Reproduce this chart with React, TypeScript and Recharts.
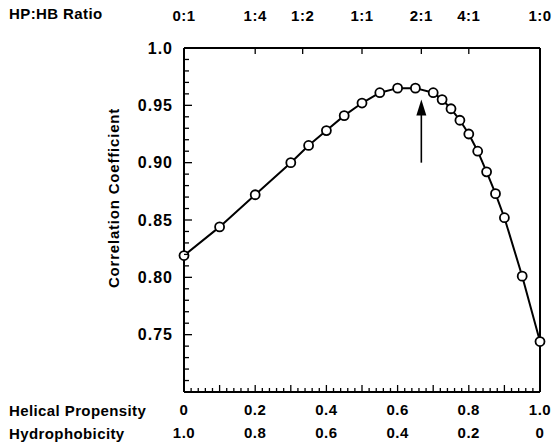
import React from 'react';
import { LineChart, Line, XAxis, YAxis, ReferenceLine } from 'recharts';

const hpFraction = [0, 0.1, 0.2, 0.3, 0.35, 0.4, 0.45, 0.5, 0.55, 0.6, 0.65, 0.7, 0.725, 0.75, 0.775, 0.8, 0.825, 0.85, 0.875, 0.9, 0.95, 1.0];
const correlation = [0.819, 0.844, 0.872, 0.9, 0.915, 0.928, 0.941, 0.952, 0.961, 0.965, 0.965, 0.961, 0.955, 0.947, 0.937, 0.925, 0.91, 0.892, 0.873, 0.852, 0.801, 0.744];

const ratioTicks = [0, 0.2, 1 / 3, 0.5, 2 / 3, 0.8, 1];
const ratioLabels = ['0:1', '1:4', '1:2', '1:1', '2:1', '4:1', '1:0'];

const bottomTicks = Array.from({ length: 51 }, (_, i) => Math.round(i * 2) / 100);
const leftTicks = Array.from({ length: 31 }, (_, i) => Math.round(70 + i) / 100);

const arrowX = 2 / 3;
const arrowFrom = 0.9;
const arrowTo = 0.955;

const data = hpFraction.map((hp, i) => ({ hp, r: correlation[i] }));

const FONT = '"Liberation Sans", Arial, Helvetica, sans-serif';
const textStyle = { fontFamily: FONT, fontWeight: 700, fontSize: 15, fill: '#000' } as const;
const yTextStyle = { fontFamily: FONT, fontWeight: 700, fontSize: 16, fill: '#000' } as const;

const fmtBottom = (v: number) => (v === 0 ? '0' : v.toFixed(1));

const BottomTick = (props: any) => {
  const { x, y, payload } = props;
  const v = Math.round(payload.value * 100);
  const major = v % 10 === 0;
  const labeled = v % 20 === 0;
  return (
    <g>
      <line x1={x} x2={x} y1={y} y2={y - (major ? 7 : 4)} stroke="#000" strokeWidth={1.3} />
      {labeled && (
        <>
          <text x={x} y={y + 23} textAnchor="middle" style={textStyle} letterSpacing={0.5}>
            {fmtBottom(v / 100)}
          </text>
          <text x={x} y={y + 46} textAnchor="middle" style={textStyle} letterSpacing={0.5}>
            {fmtBottom(1 - v / 100)}
          </text>
        </>
      )}
    </g>
  );
};

const TopTick = (props: any) => {
  const { x, y, index } = props;
  return (
    <g>
      <line x1={x} x2={x} y1={y} y2={y + 6} stroke="#000" strokeWidth={1.3} />
      <text x={x} y={y - 27} textAnchor="middle" style={textStyle} letterSpacing={0.5}>
        {ratioLabels[index] ?? ''}
      </text>
    </g>
  );
};

const LeftTick = (props: any) => {
  const { x, y, payload } = props;
  const v = Math.round(payload.value * 100);
  const major = v % 5 === 0;
  const labeled = major && v >= 75;
  const label = v === 100 ? '1.0' : (v / 100).toFixed(2);
  return (
    <g>
      <line x1={x} x2={x + (major ? 8 : 5)} y1={y} y2={y} stroke="#000" strokeWidth={1.3} />
      {labeled && (
        <text x={x - 11} y={y} dy="0.36em" textAnchor="end" style={yTextStyle} letterSpacing={1}>
          {label}
        </text>
      )}
    </g>
  );
};

const ArrowShape = (p: any) => {
  const { x1, y1, x2, y2 } = p;
  return (
    <g>
      <line x1={x1} y1={y1} x2={x2} y2={y2 + 12} stroke="#000" strokeWidth={1.6} />
      <polygon points={`${x2},${y2} ${x2 - 5},${y2 + 16} ${x2 + 5},${y2 + 16}`} fill="#000" />
    </g>
  );
};

const labelStyle: React.CSSProperties = {
  position: 'absolute',
  fontFamily: FONT,
  fontWeight: 700,
  fontSize: 15,
  color: '#000',
  whiteSpace: 'nowrap',
  lineHeight: 1,
  letterSpacing: 0.4,
};

export default function App() {
  return (
    <div style={{ position: 'absolute', left: 0, top: 0, width: 556, height: 442, background: '#fff' }}>
      <LineChart width={556} height={442} data={data} margin={{ top: 0, right: 16, bottom: 0, left: 0 }}>
        <XAxis
          xAxisId="bottom"
          dataKey="hp"
          type="number"
          domain={[0, 1]}
          ticks={bottomTicks}
          interval={0}
          height={50}
          tickSize={0}
          tickMargin={0}
          tickLine={false}
          axisLine={{ stroke: '#000', strokeWidth: 2 }}
          tick={<BottomTick />}
        />
        <XAxis
          xAxisId="top"
          orientation="top"
          dataKey="hp"
          type="number"
          domain={[0, 1]}
          ticks={ratioTicks}
          interval={0}
          height={48}
          tickSize={0}
          tickMargin={0}
          tickLine={false}
          axisLine={{ stroke: '#000', strokeWidth: 2 }}
          tick={<TopTick />}
        />
        <YAxis
          yAxisId="left"
          type="number"
          domain={[0.7, 1.0]}
          ticks={leftTicks}
          interval={0}
          width={184}
          tickSize={0}
          tickMargin={0}
          tickLine={false}
          axisLine={{ stroke: '#000', strokeWidth: 2 }}
          tick={<LeftTick />}
        />
        <ReferenceLine xAxisId="bottom" yAxisId="left" x={1} stroke="#000" strokeWidth={2} />
        <ReferenceLine
          xAxisId="bottom"
          yAxisId="left"
          segment={[{ x: arrowX, y: arrowFrom }, { x: arrowX, y: arrowTo }]}
          shape={<ArrowShape />}
        />
        <Line
          xAxisId="bottom"
          yAxisId="left"
          type="linear"
          dataKey="r"
          stroke="#000"
          strokeWidth={2}
          dot={{ r: 4.5, fill: '#fff', stroke: '#000', strokeWidth: 1.8 }}
          isAnimationActive={false}
        />
      </LineChart>
      <div style={{ ...labelStyle, left: 9, top: 6 }}>HP:HB Ratio</div>
      <div style={{ ...labelStyle, left: 9, top: 403 }}>Helical Propensity</div>
      <div style={{ ...labelStyle, left: 9, top: 426 }}>Hydrophobicity</div>
      <div
        style={{
          ...labelStyle,
          left: 113,
          top: 198,
          transform: 'translate(-50%, -50%) rotate(-90deg)',
          letterSpacing: 0.8,
        }}
      >
        Correlation Coefficient
      </div>
    </div>
  );
}
